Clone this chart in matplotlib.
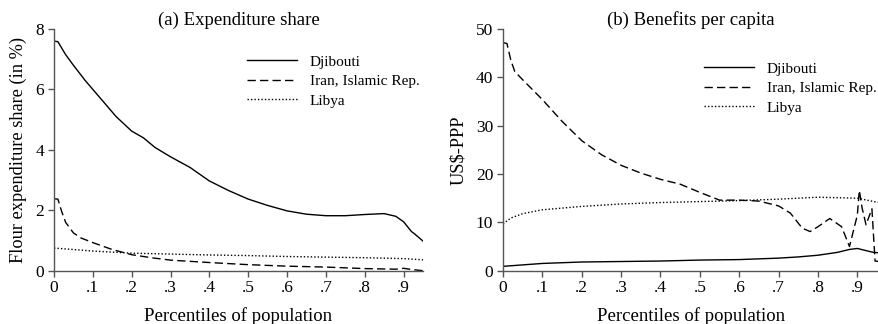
import matplotlib
matplotlib.use("Agg")
import matplotlib.pyplot as plt

plt.rcParams['font.family'] = ['Liberation Serif', 'DejaVu Serif']

# ---- Panel (a): Expenditure share (%) ----
xa_dji = [0, 0.01, 0.03, 0.05, 0.08, 0.1, 0.13, 0.16, 0.2, 0.23, 0.26, 0.3, 0.35, 0.4, 0.45, 0.5, 0.55,
          0.6, 0.65, 0.7, 0.75, 0.8, 0.85, 0.88, 0.9, 0.92, 0.93, 0.95]
ya_dji = [7.6, 7.58, 7.15, 6.8, 6.3, 6.0, 5.55, 5.1, 4.62, 4.4, 4.08, 3.77, 3.42, 2.97, 2.65, 2.37, 2.16,
          1.98, 1.87, 1.82, 1.82, 1.86, 1.89, 1.8, 1.62, 1.3, 1.2, 0.98]
xa_iran = [0, 0.01, 0.02, 0.03, 0.05, 0.07, 0.1, 0.15, 0.2, 0.25, 0.3, 0.4, 0.5, 0.6, 0.7, 0.8, 0.88,
           0.9, 0.92, 0.95]
ya_iran = [2.38, 2.37, 1.95, 1.6, 1.25, 1.08, 0.93, 0.7, 0.53, 0.43, 0.35, 0.27, 0.2, 0.15, 0.12, 0.07,
           0.05, 0.08, 0.04, 0.0]
xa_lib = [0, 0.05, 0.1, 0.2, 0.3, 0.4, 0.5, 0.6, 0.7, 0.8, 0.9, 0.95]
ya_lib = [0.75, 0.7, 0.65, 0.58, 0.55, 0.52, 0.5, 0.47, 0.45, 0.43, 0.4, 0.36]

# ---- Panel (b): Benefits per capita (US$-PPP) ----
xb_dji = [0, 0.05, 0.1, 0.2, 0.3, 0.4, 0.5, 0.6, 0.7, 0.75, 0.8, 0.85, 0.88, 0.9, 0.92, 0.94, 0.955]
yb_dji = [0.9, 1.2, 1.5, 1.8, 1.9, 2.0, 2.2, 2.3, 2.6, 2.85, 3.2, 3.8, 4.4, 4.6, 4.2, 3.8, 3.7]
xb_iran = [0, 0.01, 0.02, 0.03, 0.05, 0.1, 0.15, 0.2, 0.25, 0.3, 0.35, 0.4, 0.45, 0.5, 0.55, 0.6,
           0.65, 0.7, 0.73, 0.76, 0.78, 0.8, 0.83, 0.86, 0.88, 0.9, 0.905, 0.912, 0.922, 0.937,
           0.945, 0.955]
yb_iran = [47.2, 47.0, 43.5, 41.2, 39.5, 35.4, 30.9, 26.9, 24.0, 21.8, 20.2, 18.9, 17.9, 16.2, 14.6,
           14.6, 14.4, 13.4, 11.9, 8.8, 8.1, 9.1, 10.8, 9.1, 5.0, 11.5, 16.6, 13.0, 9.5, 12.8,
           2.0, 1.9]
xb_lib = [0, 0.02, 0.05, 0.1, 0.2, 0.3, 0.4, 0.5, 0.6, 0.7, 0.8, 0.9, 0.93, 0.955]
yb_lib = [9.7, 10.9, 11.8, 12.6, 13.3, 13.8, 14.1, 14.3, 14.5, 14.8, 15.2, 15.0, 14.5, 14.1]

xticks = [0, 0.1, 0.2, 0.3, 0.4, 0.5, 0.6, 0.7, 0.8, 0.9]
xticklabels = ['0', '.1', '.2', '.3', '.4', '.5', '.6', '.7', '.8', '.9']
labels = ['Djibouti', 'Iran, Islamic Rep.', 'Libya']

fig = plt.figure(figsize=(8.79, 3.24), dpi=100)
axa = fig.add_axes([54/879, 1-270.7/324, (423-54)/879, (270.7-29)/324])
axb = fig.add_axes([503/879, 1-270.7/324, (879-503)/879, (270.7-29)/324])

gray = '#555555'

def style(ax):
    for s in ['top', 'right']:
        ax.spines[s].set_visible(False)
    for s in ['left', 'bottom']:
        ax.spines[s].set_color(gray)
        ax.spines[s].set_linewidth(1.0)
    ax.tick_params(direction='out', length=4, width=1, color=gray, labelsize=12.5, pad=3)
    ax.set_xticks(xticks)
    ax.set_xticklabels(xticklabels)
    ax.set_xlabel('Percentiles of population', fontsize=13.5, labelpad=8)

lw = 1.0
axa.plot(xa_dji, ya_dji, color='black', lw=lw, ls='-', label=labels[0])
axa.plot(xa_iran, ya_iran, color='black', lw=lw, ls=(0, (6, 3)), label=labels[1])
axa.plot(xa_lib, ya_lib, color='black', lw=lw, ls=(0, (1, 1.5)), label=labels[2])
axa.set_xlim(0, 0.95)
axa.set_ylim(0, 8)
axa.set_yticks([0, 2, 4, 6, 8])
style(axa)
axa.set_ylabel('Flour expenditure share (in %)', fontsize=13.2, labelpad=6)
axa.set_title('(a) Expenditure share', fontsize=13.5, pad=2)

axb.plot(xb_dji, yb_dji, color='black', lw=lw, ls='-', label=labels[0])
axb.plot(xb_iran, yb_iran, color='black', lw=lw, ls=(0, (6, 3)), label=labels[1])
axb.plot(xb_lib, yb_lib, color='black', lw=lw, ls=(0, (1, 1.5)), label=labels[2])
axb.set_xlim(0, 0.955)
axb.set_ylim(0, 50)
axb.set_yticks([0, 10, 20, 30, 40, 50])
style(axb)
axb.set_ylabel('US$-PPP', fontsize=13.2, labelpad=6)
axb.set_title('(b) Benefits per capita', fontsize=13.5, pad=2)

for ax, (x0, y0) in [(axa, (247, 55)), (axb, (704, 62))]:
    ax.legend(loc='upper left', bbox_to_anchor=(x0/879, 1-y0/324), bbox_transform=fig.transFigure,
              frameon=False, fontsize=11, handlelength=3.3, handletextpad=0.8,
              labelspacing=0.38, borderpad=0, borderaxespad=0)

fig.savefig('out.png', dpi=100)
